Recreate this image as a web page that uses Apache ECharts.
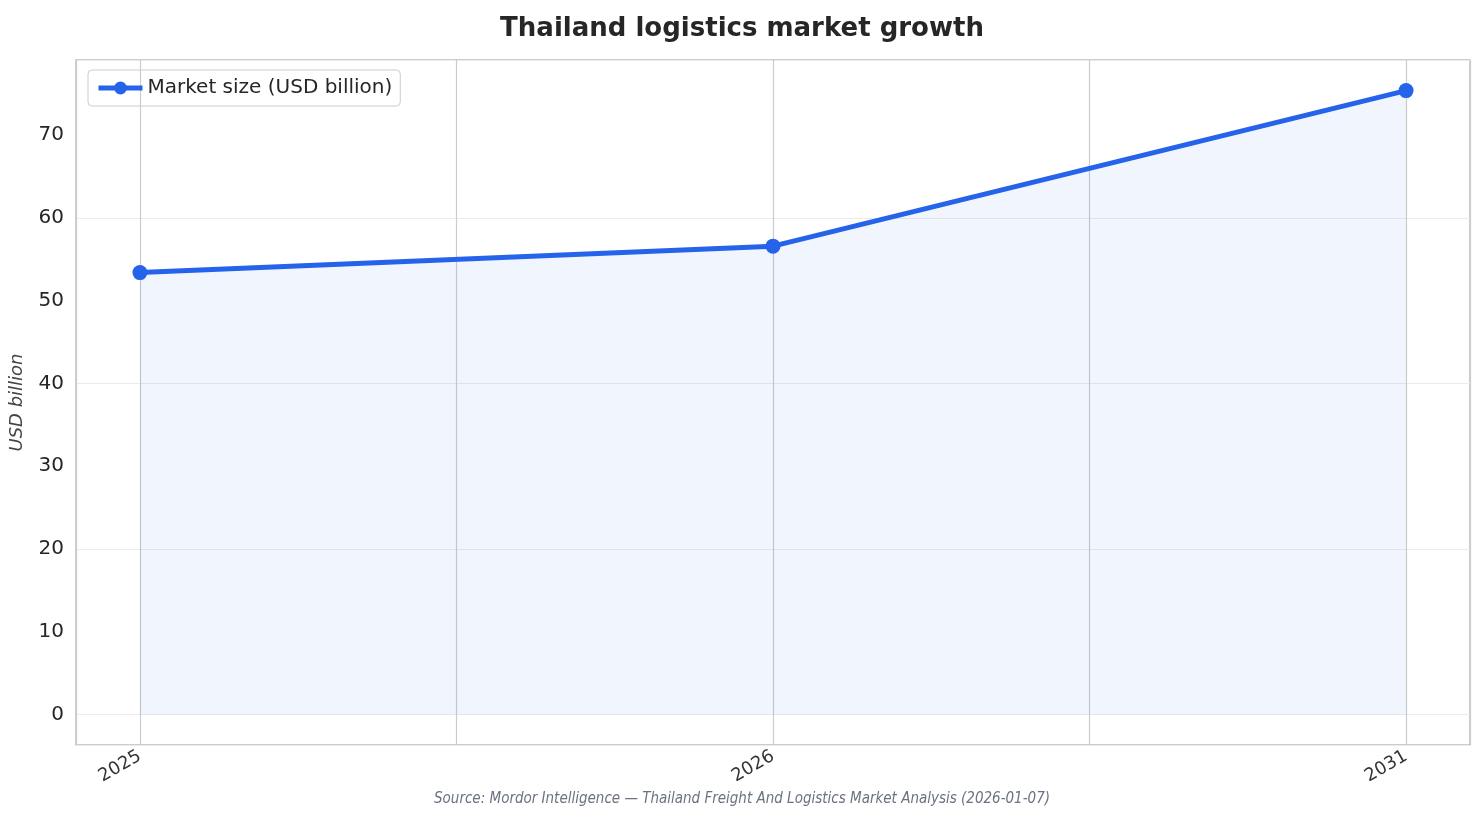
<!DOCTYPE html>
<html><head><meta charset="utf-8">
<script src="https://cdn.jsdelivr.net/npm/echarts@6/dist/echarts.min.js"></script>
<style>html,body{margin:0;padding:0;background:#fff}#c{width:1484px;height:823px}</style>
</head><body><div id="c"></div>
<script>
var years = ['2025', '2026', '2031'];
var marketSize = [53.4, 56.6, 75.4];
var yTicks = [0, 10, 20, 30, 40, 50, 60, 70];

var chart = echarts.init(document.getElementById('c'));
var font = 'DejaVu Sans';
chart.setOption({
    animation: false,
    textStyle: { fontFamily: font },
    title: {
        text: 'Thailand logistics market growth',
        left: 'center', top: 11,
        textStyle: { fontSize: 26, fontWeight: 'bold', color: '#262626', fontFamily: font }
    },
    graphic: [{
        type: 'text', left: 'center', top: 792,
        style: { text: 'Source: Mordor Intelligence — Thailand Freight And Logistics Market Analysis (2026-01-07)',
                 fill: '#6b7280', font: 'italic 15px "Liberation Sans Narrow", "DejaVu Sans Condensed", sans-serif' }
    }],
    legend: {
        left: 88, top: 70, padding: [8, 8],
        borderColor: '#cccccc', borderWidth: 1, borderRadius: 4,
        itemWidth: 44, itemHeight: 16,
        itemStyle: { color: '#2563eb' },
        lineStyle: { width: 5, color: '#2563eb' },
        textStyle: { fontSize: 20, color: '#262626' },
        data: ['Market size (USD billion)']
    },
    grid: { left: 76, right: 14, top: 60, bottom: 78, show: true, borderColor: '#bdbdbd', borderWidth: 1.5 },
    xAxis: {
        type: 'value', min: -0.101, max: 2.101,
        axisLine: { show: false, onZero: false },
        axisTick: { show: false },
        axisLabel: { customValues: [0, 1, 2], rotate: 30, fontSize: 18, color: '#333', margin: 10,
                     formatter: function (v) { return years[Math.round(v)]; } },
        splitLine: { show: true, lineStyle: { color: '#cccccc', width: 1.2 } }
    },
    yAxis: {
        type: 'value', min: -3.7, max: 79.1,
        name: 'USD billion', nameLocation: 'middle', nameGap: 50,
        nameTextStyle: { fontStyle: 'italic', fontSize: 18, color: '#444' },
        axisLine: { show: false, onZero: false },
        axisTick: { show: false },
        axisLabel: { customValues: yTicks, fontSize: 20, color: '#262626', margin: 12 },
        splitLine: { show: true, lineStyle: { color: '#ebebeb', width: 1.2 } }
    },
    series: [{
        name: 'Market size (USD billion)',
        type: 'line',
        data: marketSize.map(function (v, i) { return [i, v]; }),
        symbol: 'circle', symbolSize: 15,
        itemStyle: { color: '#2563eb' },
        lineStyle: { color: '#2563eb', width: 5 },
        areaStyle: { color: 'rgba(37,99,235,0.09)', origin: 0 }
    }]
});
</script></body></html>
